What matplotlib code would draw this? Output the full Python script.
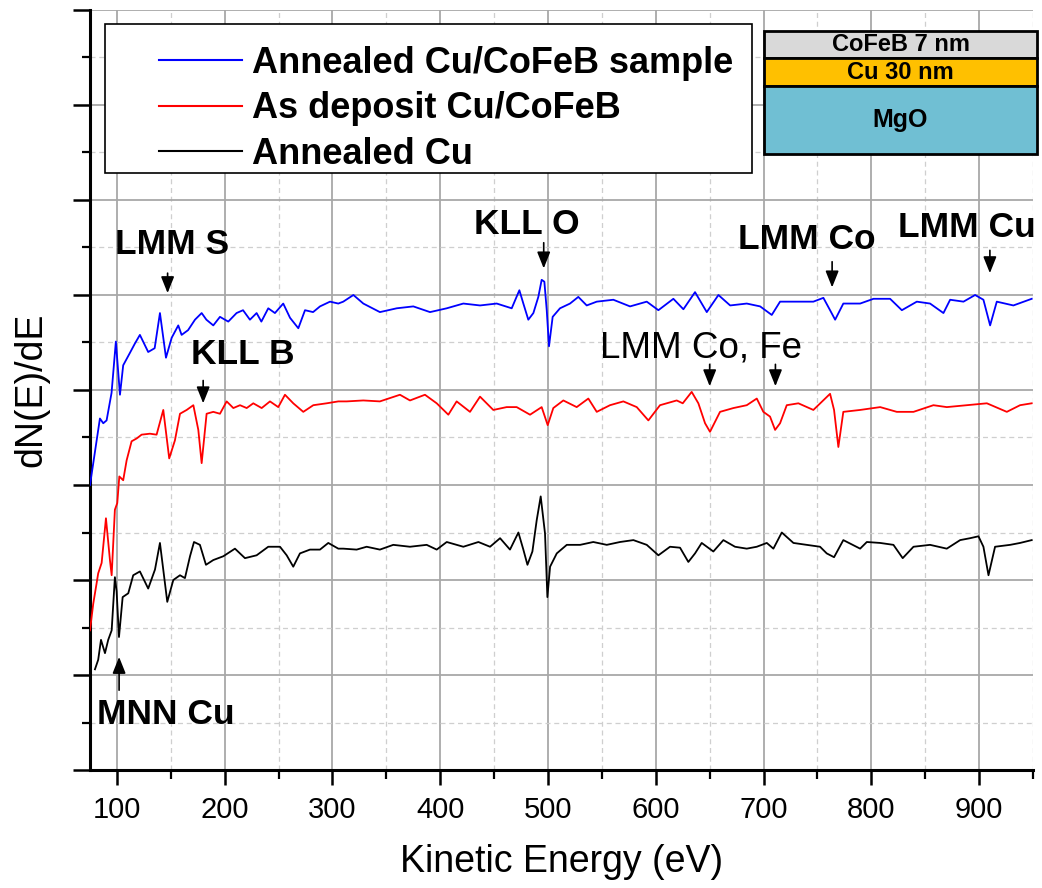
import matplotlib
matplotlib.use('Agg')
import matplotlib.pyplot as plt
from matplotlib.ticker import MultipleLocator, NullFormatter
from matplotlib.patches import Rectangle

plt.rcParams['font.family'] = ['Liberation Sans', 'DejaVu Sans']

# ---------------- data ----------------
series_labels = ['Annealed Cu/CoFeB sample', 'As deposit Cu/CoFeB', 'Annealed Cu']
series_colors = ['#0000ff', '#ff0000', '#000000']

annealed_cucofeb = [
    (75, 3.0), (79.6, 3.35), (84.2, 3.7), (87.3, 3.65), (90.4, 3.68), (95, 3.97), (99, 4.51),
    (102.8, 3.95), (105.8, 4.26), (112, 4.39), (116.7, 4.49), (121.3, 4.58), (126, 4.47),
    (129, 4.40), (135, 4.44), (139.9, 4.81), (145.5, 4.34), (150.8, 4.55), (156.9, 4.68),
    (160, 4.58), (166, 4.63), (172.4, 4.74), (178.6, 4.81), (183, 4.74), (189.4, 4.68),
    (195.6, 4.77), (203.3, 4.72), (211, 4.81), (217, 4.84), (223.4, 4.74), (229.6, 4.81),
    (234, 4.72), (240.4, 4.86), (246.6, 4.81), (254.3, 4.91), (260.6, 4.76), (268.3, 4.65),
    (274.5, 4.84), (282, 4.82), (288.4, 4.88), (297.7, 4.93), (305.4, 4.91), (310, 4.93),
    (319.4, 5.0), (328.6, 4.91), (344, 4.82), (359.6, 4.86), (375, 4.88), (390.5, 4.82),
    (406, 4.86), (421.4, 4.91), (436.9, 4.89), (452.4, 4.91), (466.3, 4.86), (473.4, 5.05),
    (477.1, 4.91), (481.7, 4.74), (486.4, 4.81), (491, 4.98), (494.1, 5.16), (496.6, 5.14),
    (498.8, 4.84), (500.9, 4.46), (504.3, 4.77), (511.1, 4.86), (520.4, 4.91), (528.1, 4.98),
    (535.9, 4.89), (545.2, 4.93), (560.6, 4.95), (576.1, 4.88), (591.6, 4.93), (602.4, 4.84),
    (616.3, 4.96), (625.6, 4.85), (636.4, 5.03), (647.3, 4.82), (658.1, 5.0), (669, 4.89),
    (684.4, 4.91), (696.8, 4.88), (707.6, 4.79), (715.3, 4.93), (730.8, 4.93), (746.2, 4.93),
    (755.5, 4.97), (761.7, 4.84), (766.4, 4.74), (774, 4.91), (789.6, 4.91), (802, 4.96),
    (817.4, 4.96), (828.3, 4.84), (842.2, 4.93), (854.5, 4.91), (866.9, 4.81), (873.1, 4.95),
    (885.5, 4.93), (896.3, 5.0), (904, 4.95), (910.2, 4.68), (916.4, 4.93), (931.8, 4.89),
    (948.8, 4.96),
]

as_deposit_cucofeb = [
    (75, 1.47), (78, 1.75), (81.2, 1.97), (82.6, 2.07), (85.8, 2.18), (89.8, 2.65), (93.5, 2.21),
    (95.1, 2.05), (98.1, 2.74), (100.3, 2.81), (102.2, 3.09), (105.8, 3.05), (109, 3.26),
    (113.6, 3.46), (118.3, 3.49), (122.9, 3.53), (130.6, 3.54), (136.8, 3.53), (143, 3.79),
    (148.5, 3.28), (153.8, 3.47), (158.5, 3.75), (164.7, 3.79), (170.9, 3.84), (175.5, 3.58),
    (178.6, 3.23), (183.2, 3.75), (189.4, 3.77), (195.6, 3.75), (201.8, 3.88), (208, 3.81),
    (214.2, 3.84), (220.4, 3.81), (226.5, 3.86), (234.3, 3.81), (242, 3.88), (249.7, 3.82),
    (255.9, 3.95), (263.6, 3.86), (272.9, 3.77), (282.2, 3.84), (294.6, 3.86), (305.4, 3.88),
    (313.2, 3.88), (328.6, 3.89), (344, 3.88), (362.6, 3.95), (371.9, 3.89), (385.8, 3.95),
    (396.7, 3.86), (407.5, 3.74), (415.2, 3.88), (427.6, 3.77), (436.9, 3.93), (449.2, 3.79),
    (461.6, 3.82), (470.9, 3.82), (483.3, 3.74), (494.1, 3.82), (499.7, 3.63), (504.9, 3.81),
    (514.2, 3.89), (526.6, 3.82), (537.4, 3.91), (545.2, 3.77), (557.5, 3.84), (569.9, 3.88),
    (582.3, 3.82), (593.1, 3.68), (603.9, 3.84), (619.4, 3.89), (625, 3.86), (633.3, 3.98),
    (639.5, 3.86), (645.7, 3.65), (650.3, 3.56), (659.6, 3.77), (672, 3.81), (684.4, 3.84),
    (693.7, 3.91), (699.8, 3.77), (706, 3.72), (710.7, 3.58), (715.3, 3.65), (721.5, 3.84),
    (732.3, 3.86), (746.2, 3.79), (761.7, 3.96), (765.4, 3.79), (769.4, 3.40), (774, 3.77),
    (789.6, 3.79), (808.2, 3.82), (823.6, 3.77), (839.1, 3.77), (857.6, 3.84), (870, 3.82),
    (888.6, 3.84), (907.2, 3.86), (925.7, 3.77), (938, 3.84), (948.8, 3.86),
]

annealed_cu = [
    (79.6, 1.06), (82.6, 1.16), (85.2, 1.37), (88.9, 1.23), (91.9, 1.37), (95.1, 1.47),
    (98.1, 2.03), (99.7, 1.88), (101.9, 1.40), (105.3, 1.82), (110.5, 1.86), (115.1, 2.05),
    (121.3, 2.09), (129, 1.91), (135.3, 2.11), (139.9, 2.39), (146.7, 1.77), (152.3, 2.0),
    (158.5, 2.05), (163.1, 2.02), (167.8, 2.25), (171.5, 2.40), (177, 2.37), (182.6, 2.16),
    (189.4, 2.21), (198.7, 2.25), (209.5, 2.33), (218.8, 2.23), (229.6, 2.26), (240.4, 2.35),
    (251.3, 2.35), (257.5, 2.26), (263.6, 2.14), (269.8, 2.28), (279.1, 2.32), (288.4, 2.32),
    (296.1, 2.39), (305.4, 2.33), (310, 2.33), (322.4, 2.32), (331.7, 2.35), (344, 2.32),
    (356.4, 2.37), (371.9, 2.35), (387.4, 2.37), (396.7, 2.32), (406, 2.40), (421.4, 2.35),
    (435.4, 2.40), (446.2, 2.35), (455.5, 2.44), (464.7, 2.32), (472.5, 2.50), (477.1, 2.32),
    (480.9, 2.16), (485.5, 2.30), (489.5, 2.63), (493.2, 2.88), (497.2, 2.49), (499.4, 1.82),
    (501.9, 2.14), (508.1, 2.28), (517.4, 2.37), (529.8, 2.37), (542, 2.40), (554.5, 2.37),
    (566.8, 2.40), (579.2, 2.42), (591.6, 2.37), (602.4, 2.26), (613.2, 2.35), (622.5, 2.34),
    (630.2, 2.19), (636.4, 2.28), (642.6, 2.39), (653.4, 2.30), (662.7, 2.42), (673.5, 2.35),
    (684.4, 2.33), (693.7, 2.35), (703, 2.39), (709.1, 2.33), (716.9, 2.50), (727.7, 2.39),
    (740, 2.37), (752.4, 2.35), (758.6, 2.28), (765.4, 2.24), (774, 2.42), (789.6, 2.33),
    (795.8, 2.40), (808.2, 2.39), (820.5, 2.37), (829.1, 2.23), (839.1, 2.35), (854.5, 2.37),
    (870, 2.33), (882.4, 2.42), (891.6, 2.44), (899.4, 2.46), (904, 2.35), (908.7, 2.05),
    (914.8, 2.35), (928.8, 2.37), (938, 2.39), (948.8, 2.42),
]

x_ticks = [100, 200, 300, 400, 500, 600, 700, 800, 900]

# peak labels: (text, text_x, text_y, bold)
peak_labels = [
    ('LMM S', 151, 5.53, True),
    ('KLL B', 217, 4.37, True),
    ('KLL O', 480.5, 5.74, True),
    ('LMM Co', 740.4, 5.58, True),
    ('LMM Cu', 888.8, 5.71, True),
    ('LMM Co, Fe', 642, 4.44, False),
    ('MNN Cu', 145.5, 0.58, True),
]
# arrows: (energy, tail_y, head_y)
peak_arrows = [
    (147, 5.23, 5.02),
    (180, 4.10, 3.86),
    (496, 5.55, 5.28),
    (763.6, 5.35, 5.08),
    (910, 5.47, 5.23),
    (650, 4.27, 4.04),
    (711, 4.27, 4.04),
    (102, 0.84, 1.19),
]

layers = ['CoFeB 7 nm', 'Cu 30 nm', 'MgO']
layer_colors = ['#d9d9d9', '#ffc000', '#70bfd3']

# ---------------- figure ----------------
W, H = 1042, 888
fig = plt.figure(figsize=(W / 100, H / 100), dpi=100)
ax = fig.add_axes([90 / W, 1 - 770 / H, (1033 - 90) / W, (770 - 10) / H])

for data, lab, col in zip([annealed_cucofeb, as_deposit_cucofeb, annealed_cu],
                          series_labels, series_colors):
    xs, ys = zip(*data)
    ax.plot(xs, ys, color=col, lw=1.3, label=lab, zorder=3)

ax.set_xlim(75, 950)
ax.set_ylim(0, 8)
ax.set_xticks(x_ticks)
ax.xaxis.set_minor_locator(MultipleLocator(50))
ax.yaxis.set_major_locator(MultipleLocator(1))
ax.yaxis.set_minor_locator(MultipleLocator(0.5))
ax.yaxis.set_major_formatter(NullFormatter())

ax.grid(which='major', color='#a8a8a8', lw=1.3, ls='-')
ax.grid(which='minor', color='#cfcfcf', lw=0.9, ls=(0, (4, 3)))
ax.set_axisbelow(True)

for s in ['top', 'right']:
    ax.spines[s].set_visible(False)
for s in ['left', 'bottom']:
    ax.spines[s].set_linewidth(2.2)

ax.tick_params(axis='y', which='major', length=12, width=1.8, direction='out')
ax.tick_params(axis='y', which='minor', length=6, width=1.6, direction='out')
ax.tick_params(axis='x', which='major', length=11, width=1.8, direction='out', pad=8)
ax.tick_params(axis='x', which='minor', length=6.5, width=1.6, direction='out')

for t in ax.get_xticklabels():
    t.set_fontsize(21)

ax.set_xlabel('Kinetic Energy (eV)', fontsize=27, labelpad=14)
ax.set_ylabel('dN(E)/dE', fontsize=27, labelpad=14)

for txt, tx, ty, bold in peak_labels:
    ax.text(tx, ty, txt, ha='center', va='center', fontsize=25.5 if bold else 26.5,
            fontweight='bold' if bold else 'normal', zorder=4)

for ex, yt, yh in peak_arrows:
    ax.annotate('', xy=(ex, yh), xytext=(ex, yt),
                arrowprops=dict(arrowstyle='-|>,head_length=0.5,head_width=0.2',
                                color='black', lw=1.2, shrinkA=0, shrinkB=0,
                                mutation_scale=20), zorder=4)

# legend
frame = Rectangle((105 / W, 1 - 173 / H), (752 - 105) / W, (173 - 24) / H,
                  transform=fig.transFigure, facecolor='white', edgecolor='black',
                  lw=1.2, zorder=4.5)
ax.add_patch(frame)
leg = ax.legend(loc='upper left', bbox_to_anchor=(159 / W, 1 - 46 / H),
                bbox_transform=fig.transFigure, frameon=False,
                prop=dict(weight='bold', size=26), handlelength=2.3,
                handletextpad=0.28, labelspacing=0.29, borderpad=0, borderaxespad=0)
leg.set_zorder(5)
for h in leg.get_lines():
    h.set_linewidth(1.5)

# inset schematic
iax = fig.add_axes([764 / W, 1 - 154 / H, (1037 - 764) / W, (154 - 31) / H])
iax.set_xlim(0, 1)
iax.set_ylim(0, 1)
iax.axis('off')
fracs = [0.22, 0.228, 0.552]
fsz = [17, 17, 18]
top = 1.0
for lab, col, fr, fs in zip(layers, layer_colors, fracs, fsz):
    iax.add_patch(Rectangle((0, top - fr), 1, fr, facecolor=col, edgecolor='black',
                            lw=2, clip_on=False))
    iax.text(0.5, top - fr / 2, lab, ha='center', va='center', fontsize=fs,
             fontweight='bold')
    top -= fr

fig.savefig('out.png', dpi=100)
